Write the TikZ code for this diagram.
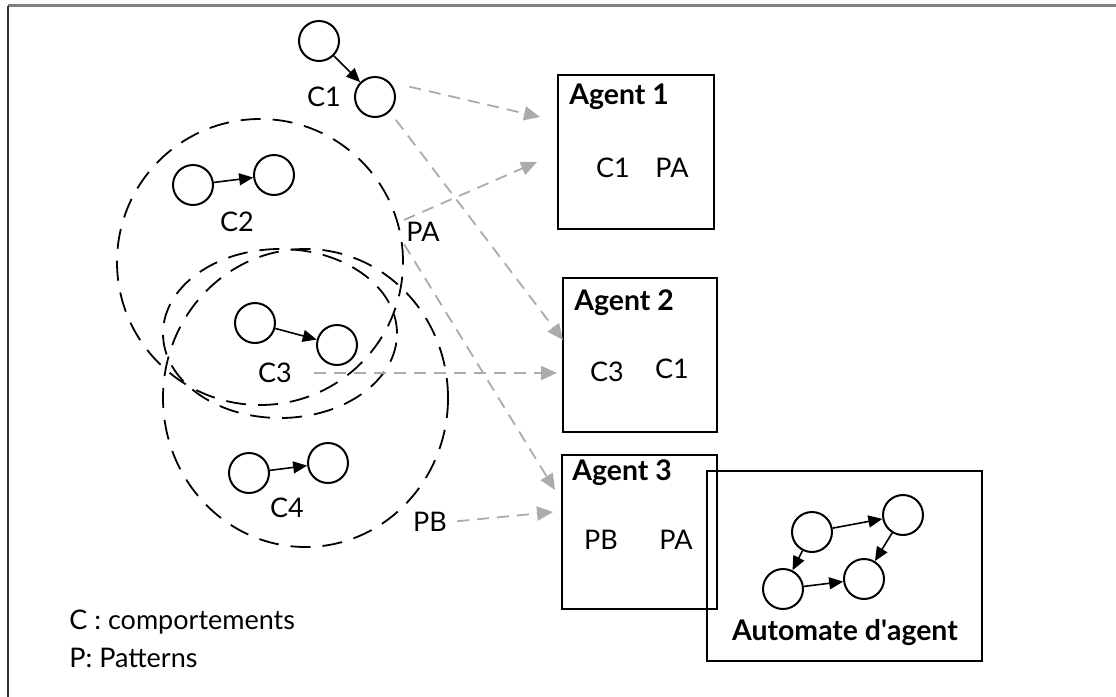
\documentclass[tikz,border=0pt]{standalone}
\usepackage{fontspec}
\setmainfont{Lato}
\usetikzlibrary{arrows.meta}

\begin{document}
\begin{tikzpicture}[x=0.5pt, y=-0.5pt,
  etat/.style={circle, draw=black, line width=1pt, minimum size=20pt, inner sep=0pt},
  trans/.style={-{Triangle[length=7pt,width=6pt]}, line width=0.8pt},
  envoi/.style={-{Triangle[length=8pt,width=7pt]}, draw=black!33, dash pattern=on 6pt off 4pt, line width=0.9pt},
  zone/.style={draw=black, line width=0.9pt, dash pattern=on 10pt off 6pt},
  agent/.style={draw=black, line width=1pt, inner sep=0pt},
  etiq/.style={font=\fontsize{13.5}{16}\selectfont, inner sep=1pt},
  titre/.style={font=\bfseries\fontsize{14.2}{17}\selectfont, inner sep=1pt}]
\useasboundingbox (0,0) rectangle (1116,697);
\draw[black!50, line width=1.2pt] (1116,5.5) -- (8,5.5);
\draw[black!80, line width=1.2pt] (8,5.5) -- (8,697);

% zones
\draw[zone] (260,262) circle[radius=71.5pt];
\draw[zone] (280,333.5) ellipse[x radius=58.5pt, y radius=42.25pt];
\draw[zone] (305.5,398) ellipse[x radius=71.25pt, y radius=74.5pt];

% comportements
\node[etat] (c1a) at (319,41) {};
\node[etat] (c1b) at (375,97) {};
\node[etat] (c2a) at (193,185) {};
\node[etat] (c2b) at (274,175) {};
\node[etat] (c3a) at (255,323) {};
\node[etat] (c3b) at (337,345) {};
\node[etat] (c4a) at (249,473) {};
\node[etat] (c4b) at (328,463) {};
\draw[trans] (c1a) -- (c1b);
\draw[trans] (c2a) -- (c2b);
\draw[trans] (c3a) -- (c3b);
\draw[trans] (c4a) -- (c4b);
\node[etiq] (lc1) at (324,97) {C1};
\node[etiq] (lc2) at (237,222) {C2};
\node[etiq] (lc3) at (275,373) {C3};
\node[etiq] (lc4) at (287,508) {C4};
\node[etiq] (pa) at (423,232) {PA};
\node[etiq] (pb) at (430,522) {PB};

% agents
\node[agent, minimum width=78pt, minimum height=77pt] (agent1) at (636,152) {};
\node[agent, minimum width=77pt, minimum height=77pt] (agent2) at (640,355) {};
\node[agent, minimum width=77.5pt, minimum height=77pt] (agent3) at (639.5,532) {};
\node[agent, minimum width=137.5pt, minimum height=95pt] (autom) at (844.5,566) {};
\node[titre, anchor=west] (t1) at (567,97) {Agent 1};
\node[titre, anchor=west] (t2) at (572,303) {Agent 2};
\node[titre, anchor=west] (t3) at (570,473) {Agent 3};
\node[etiq] (a1c1) at (613,168) {C1};
\node[etiq] (a1pa) at (672,168) {PA};
\node[etiq] (a2c3) at (607,372) {C3};
\node[etiq] (a2c1) at (672,369) {C1};
\node[etiq] (a3pb) at (601,540) {PB};
\node[etiq] (a3pa) at (676,540) {PA};

% automate
\node[etat] (e1) at (812,532) {};
\node[etat] (e2) at (903,515) {};
\node[etat] (e3) at (783,589) {};
\node[etat] (e4) at (864,579) {};
\draw[trans] (e1) -- (e2);
\draw[trans] (e1) -- (e3);
\draw[trans] (e2) -- (e4);
\draw[trans] (e3) -- (e4);
\node[titre] (lautom) at (845,633) {Automate d\textquotesingle agent};

% envois
\coordinate (in1a) at (540,117);
\coordinate (in1b) at (537,162);
\coordinate (in2a) at (563,340);
\coordinate (in2b) at (557,373);
\coordinate (in3a) at (555,490);
\coordinate (in3b) at (553,512);
\draw[envoi, shorten <=10pt] (c1b.north east) -- (in1a);
\draw[envoi] (pa.north west) -- (in1b);
\draw[envoi, shorten <=5pt] (c1b.south east) -- (in2a);
\draw[envoi, shorten <=10pt] (lc3.east) -- (in2b);
\draw[envoi] (pa.south west) -- (in3a);
\draw[envoi, shorten <=4pt] (pb.east) -- (in3b);

% legende
\node[etiq, anchor=west] (leg1) at (67,622) {C : comportements};
\node[etiq, anchor=west] (leg2) at (67,658) {P: Patterns};
\end{tikzpicture}
\end{document}
